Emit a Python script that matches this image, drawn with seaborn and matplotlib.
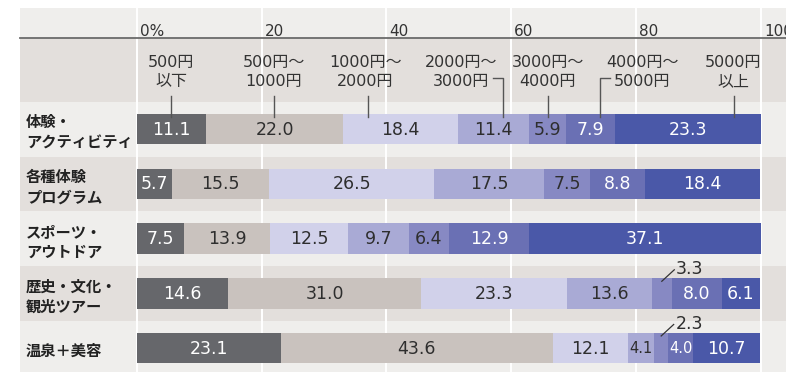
import matplotlib
matplotlib.use("Agg")
import matplotlib.pyplot as plt
import numpy as np
import pandas as pd
import seaborn as sns

# ---------------- data ----------------
categories = ["体験・\nアクティビティ", "各種体験\nプログラム", "スポーツ・\nアウトドア",
              "歴史・文化・\n観光ツアー", "温泉＋美容"]
price_bands = ["500円\n以下", "500円〜\n1000円", "1000円〜\n2000円", "2000円〜\n3000円",
               "3000円〜\n4000円", "4000円〜\n5000円", "5000円\n以上"]
under_500 = [11.1, 5.7, 7.5, 14.6, 23.1]
yen_500_1000 = [22.0, 15.5, 13.9, 31.0, 43.6]
yen_1000_2000 = [18.4, 26.5, 12.5, 23.3, 12.1]
yen_2000_3000 = [11.4, 17.5, 9.7, 13.6, 4.1]
yen_3000_4000 = [5.9, 7.5, 6.4, 3.3, 2.3]
yen_4000_5000 = [7.9, 8.8, 12.9, 8.0, 4.0]
over_5000 = [23.3, 18.4, 37.1, 6.1, 10.7]
tick_values = [0, 20, 40, 60, 80, 100]
tick_labels = ["0%", "20", "40", "60", "80", "100"]

series = [under_500, yen_500_1000, yen_1000_2000, yen_2000_3000,
          yen_3000_4000, yen_4000_5000, over_5000]

# ---------------- layout / style ----------------
X0, PXX = 136.8, 6.239     # pixel of x=0, pixels per percent
Y0, PXY = 129.2, 54.7      # pixel of first row centre, pixels per row


def dx(px):
    return (px - X0) / PXX


def dy(py):
    return (py - Y0) / PXY


seg_colors = ["#66676b", "#c9c2be", "#d1d1ea", "#a9aad5", "#8789c3", "#6a70b4", "#4a58a8"]
DARK = "#2e2e2e"
text_colors = ["white", DARK, DARK, DARK, DARK, "white", "white"]
LIGHT_BG = "#efeeec"
DARK_BG = "#e3dfdc"
NUM_FONT = ["DejaVu Sans", "Noto Sans CJK JP"]
JP_FONT = ["Noto Sans CJK JP", "DejaVu Sans"]

# header label placement (percent units) and leader style
header_x = [5.5, 22.0, 36.6, 52.0, 65.9, 81.0, 95.6]
leader_x = [5.5, 22.0, 37.0, 58.7, 65.9, 74.2, 95.7]
leader_kind = ["v", "v", "v", "right", "v", "left", "v"]

fig = plt.figure(figsize=(7.86, 3.72), dpi=100)
ax = fig.add_axes([0, 0, 1, 1])

# stacked bars via seaborn (draw cumulative totals back to front)
cum = np.cumsum(np.array(series), axis=0)
for j in reversed(range(len(series))):
    df = pd.DataFrame({"category": categories, "cum": cum[j]})
    sns.barplot(data=df, x="cum", y="category", orient="h", color=seg_colors[j],
                saturation=1, width=0.558, errorbar=None, ax=ax,
                linewidth=0, edgecolor="none", zorder=3)

xmin_f = 20 / 786
# background bands
ax.axhspan(dy(8), dy(38), xmin=xmin_f, xmax=1, color=LIGHT_BG, zorder=0, lw=0)
ax.axhspan(dy(38), -0.5, xmin=xmin_f, xmax=1, color=DARK_BG, zorder=0, lw=0)
n = len(categories)
for i in range(n):
    top = i + 0.5 if i < n - 1 else dy(380)
    ax.axhspan(i - 0.5, top, xmin=xmin_f, xmax=1,
               color=LIGHT_BG if i % 2 == 0 else DARK_BG, zorder=0, lw=0)

# vertical white gridlines
ax.vlines(tick_values, dy(8), dy(380), color="white", lw=1.4, zorder=1)
# dark rule under tick labels
ax.axhline(dy(38), xmin=xmin_f, xmax=1, color="#6b6b6b", lw=1.3, zorder=2)

# tick labels
for t, lab in zip(tick_values, tick_labels):
    ax.text(t + 0.5, dy(32), lab, ha="left", va="center", fontsize=11,
            color="#333333", family=NUM_FONT, zorder=4)

# header price-band labels + leader lines
for k, lab in enumerate(price_bands):
    lines = lab.split("\n")
    for ln, yy in zip(lines, [dy(63), dy(82)]):
        ax.text(header_x[k], yy, ln, ha="center", va="center", fontsize=11.5,
                color="#333333", family=NUM_FONT, zorder=4)
    lx = leader_x[k]
    if leader_kind[k] == "v":
        ax.plot([lx, lx], [dy(96), dy(117)], color="#555555", lw=1, zorder=4)
    elif leader_kind[k] == "right":
        ax.plot([lx - 1.6, lx, lx], [dy(78), dy(78), dy(117)], color="#555555", lw=1, zorder=4)
    else:
        ax.plot([lx + 1.6, lx, lx], [dy(78), dy(78), dy(117)], color="#555555", lw=1, zorder=4)

# row labels
for i, cat in enumerate(categories):
    lines = cat.split("\n")
    offs = [-0.125, 0.245] if len(lines) == 2 else [0.06]
    for ln, o in zip(lines, offs):
        ax.text(dx(26), i + o, ln, ha="left", va="center", fontsize=11,
                fontweight="bold", color="#222222", family=JP_FONT, zorder=4)

# value labels
for j, vals in enumerate(series):
    for i, v in enumerate(vals):
        c = cum[j][i] - v / 2
        if v < 3.5:
            ax.plot([c, c + 2.0], [i - 0.22, i - 0.43], color="#333333", lw=0.9, zorder=5)
            ax.text(c + 2.3, i - 0.44, f"{v:.1f}", ha="left", va="center",
                    fontsize=12.5, color=DARK, family=NUM_FONT, zorder=5)
        else:
            fs = 10.5 if v < 4.5 else 12.5
            ax.text(c, i + 0.01, f"{v:.1f}", ha="center", va="center", fontsize=fs,
                    color=text_colors[j], family=NUM_FONT, zorder=5)

ax.set_xlim(dx(0), dx(786))
ax.set_ylim(dy(372), dy(0))
ax.axis("off")

fig.savefig("out.png", dpi=100)
